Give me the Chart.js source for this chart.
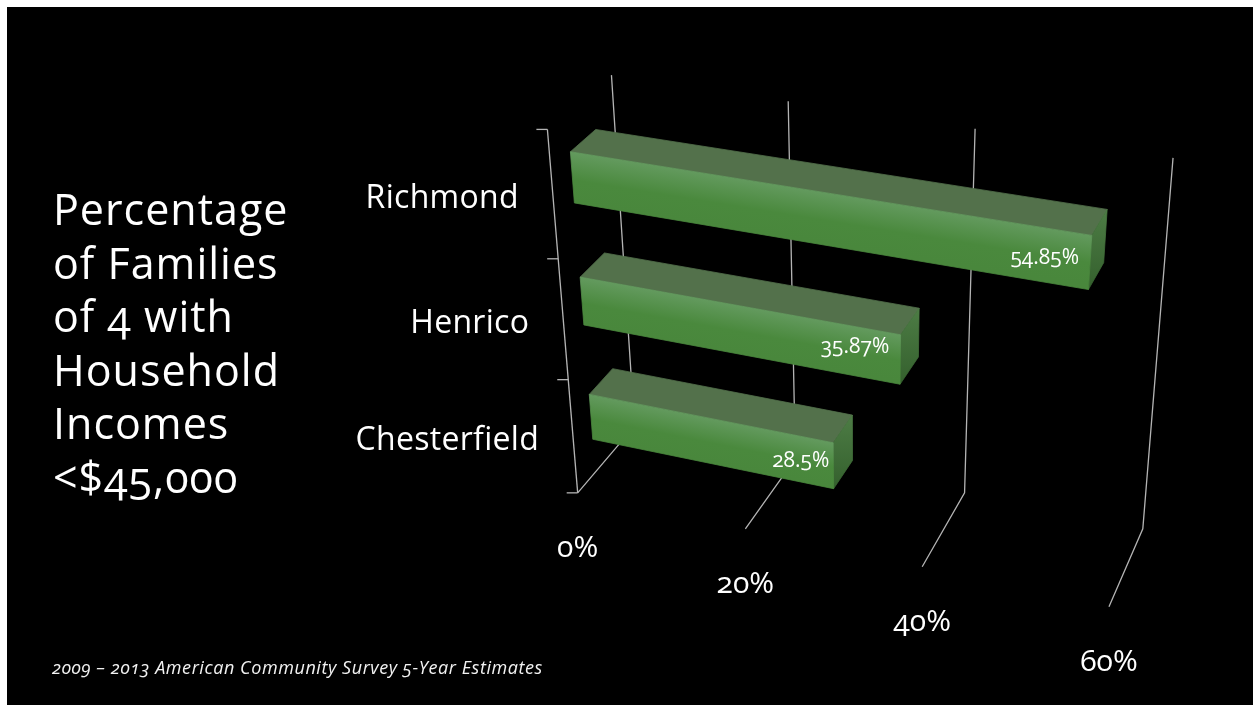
<!DOCTYPE html>
<html>
<head>
<meta charset="utf-8">
<title>Families of 4 under $45,000</title>
<script src="https://cdn.jsdelivr.net/npm/chart.js@4"></script>
<style>
    html, body { margin: 0; padding: 0; background: #fff; overflow: hidden; }
    #slide { position: absolute; left: 7px; top: 7px; width: 1246px; height: 698px; background: #000; }
    #chart { position: absolute; left: 0; top: 0; }
    #labels { position: absolute; left: 0; top: 0; width: 1253px; height: 705px; }
    #labels div, #heading, #source {
        position: absolute;
        color: #fff;
        white-space: nowrap;
        font-family: 'Open Sans', sans-serif;
        font-feature-settings: "onum" 1;
    }
    #heading { left: 53px; top: 182px; font-size: 43px; line-height: 53.5px; letter-spacing: 1px; }
    #source { left: 52px; top: 656px; font-size: 18px; font-style: italic; line-height: 22px; letter-spacing: 0.57px; color: #f2f2f2; }
</style>
</head>
<body>
<div id="slide"></div>
<canvas id="chart" width="1253" height="705"></canvas>
<div id="labels"></div>
<div id="heading">Percentage<br>of Families<br>of 4 with<br>Household<br>Incomes<br>&lt;$45,000</div>
<div id="source">2009 – 2013 American Community Survey 5-Year Estimates</div>

<script>
const categories = ['Richmond', 'Henrico', 'Chesterfield'];
const familyShare = [54.85, 35.87, 28.5];
const shareLabels = ['54.85%', '35.87%', '28.5%'];

const gridColor = '#b4b4b4';
const barDepth = [0.3, 0.7];
const labelNudge = [[-11, -7], [-11, -15], [-4, -7]];

// Corners of the 3D box: [value, height, depth, screen x, screen y], all axes 0..1
const boxAnchors = [
    [0, 1, 1, 612, 75], [1 / 3, 1, 1, 788, 101], [2 / 3, 1, 1, 975, 129], [1, 1, 1, 1173, 158],
    [0, 0, 1, 634, 426], [1 / 3, 0, 1, 795, 460], [2 / 3, 0, 1, 965, 492], [1, 0, 1, 1143, 528],
    [0, 0, 0, 578, 492], [1 / 3, 0, 0, 745, 529], [2 / 3, 0, 0, 922, 567], [1, 0, 0, 1109, 607],
    [0, 1, 0, 547, 129], [0, 2 / 3, 0, 558, 259], [0, 1 / 3, 0, 569, 380]
];

function solve(m, b) {
    const n = b.length;
    for (let i = 0; i < n; i++) {
        let best = i;
        for (let r = i + 1; r < n; r++) {
            if (Math.abs(m[r][i]) > Math.abs(m[best][i])) best = r;
        }
        [m[i], m[best]] = [m[best], m[i]];
        [b[i], b[best]] = [b[best], b[i]];
        for (let r = i + 1; r < n; r++) {
            const f = m[r][i] / m[i][i];
            for (let c = i; c < n; c++) m[r][c] -= f * m[i][c];
            b[r] -= f * b[i];
        }
    }
    const out = new Array(n).fill(0);
    for (let i = n - 1; i >= 0; i--) {
        let s = b[i];
        for (let c = i + 1; c < n; c++) s -= m[i][c] * out[c];
        out[i] = s / m[i][i];
    }
    return out;
}

// Least squares camera fit, returns project(value, height, depth) -> [x, y]
function fitCamera(anchors) {
    const rows = [], rhs = [];
    anchors.forEach(([v, u, d, sx, sy]) => {
        const x = sx / 1000, y = sy / 1000;
        rows.push([v, u, d, 1, 0, 0, 0, 0, -x * v, -x * u, -x * d]);
        rhs.push(x);
        rows.push([0, 0, 0, 0, v, u, d, 1, -y * v, -y * u, -y * d]);
        rhs.push(y);
    });
    const m = Array.from({length: 11}, () => new Array(11).fill(0));
    const b = new Array(11).fill(0);
    rows.forEach((row, k) => {
        for (let i = 0; i < 11; i++) {
            b[i] += row[i] * rhs[k];
            for (let j = 0; j < 11; j++) m[i][j] += row[i] * row[j];
        }
    });
    const p = solve(m, b);
    return (v, u, d) => {
        const w = p[8] * v + p[9] * u + p[10] * d + 1;
        return [
            1000 * (p[0] * v + p[1] * u + p[2] * d + p[3]) / w,
            1000 * (p[4] * v + p[5] * u + p[6] * d + p[7]) / w
        ];
    };
}

const project = fitCamera(boxAnchors);

const labelBoxes = new Map();
function placeLabel(key, text, x, y, size, spacing, align) {
    let el = labelBoxes.get(key);
    if (!el) {
        el = document.createElement('div');
        document.getElementById('labels').appendChild(el);
        labelBoxes.set(key, el);
    }
    el.textContent = text;
    el.style.left = x + 'px';
    el.style.top = y + 'px';
    el.style.fontSize = size + 'px';
    el.style.letterSpacing = spacing + 'px';
    el.style.transform = align === 'right' ? 'translate(-100%, -50%)' : 'translate(-50%, -50%)';
}

function polyline(ctx, pts) {
    ctx.beginPath();
    pts.forEach((p, i) => (i ? ctx.lineTo(p[0], p[1]) : ctx.moveTo(p[0], p[1])));
}

// Stroke in the fill colour too, so no dark seam shows where faces meet
function fillFace(ctx, pts, fill) {
    polyline(ctx, pts);
    ctx.closePath();
    ctx.fillStyle = fill;
    ctx.strokeStyle = fill;
    ctx.lineWidth = 0.8;
    ctx.fill();
    ctx.stroke();
}

// Gradient running across the bar, square to its top edge
function acrossGradient(ctx, a, b, foot) {
    const ex = b[0] - a[0], ey = b[1] - a[1];
    const len = Math.hypot(ex, ey);
    const nx = -ey / len, ny = ex / len;
    const reach = (foot[0] - a[0]) * nx + (foot[1] - a[1]) * ny;
    const mx = (a[0] + b[0]) / 2, my = (a[1] + b[1]) / 2;
    return ctx.createLinearGradient(mx, my, mx + nx * reach, my + ny * reach);
}

const perspectivePlugin = {
    id: 'perspective',
    afterDatasetsDraw(chart) {
        const ctx = chart.ctx;
        const xs = chart.scales.x, ys = chart.scales.y;
        const area = chart.chartArea;
        const toV = px => (px - area.left) / (area.right - area.left);
        const toU = py => (area.bottom - py) / (area.bottom - area.top);

        ctx.save();
        ctx.strokeStyle = gridColor;
        ctx.lineWidth = 1.3;

        // value gridlines: up the back wall and forward over the floor
        xs.ticks.forEach((tick, i) => {
            const v = toV(xs.getPixelForValue(tick.value));
            polyline(ctx, [project(v, 1, 1), project(v, 0, 1), project(v, 0, 0)]);
            ctx.stroke();
            const end = project(v, 0, 0);
            placeLabel('tick' + i, tick.value + '%', end[0], end[1] + 52, 30, 0, 'center');
        });

        // category axis with tick marks between the bands
        polyline(ctx, [project(0, 1, 0), project(0, 0, 0)]);
        ctx.stroke();
        for (let k = 0; k <= categories.length; k++) {
            const p = project(0, k / categories.length, 0);
            polyline(ctx, [[p[0] - 11, p[1]], p]);
            ctx.stroke();
        }

        chart.getDatasetMeta(0).data.forEach((bar, i) => {
            const v0 = toV(bar.base), v1 = toV(bar.x);
            const uTop = toU(bar.y - bar.height / 2), uBot = toU(bar.y + bar.height / 2);
            const [dF, dB] = barDepth;
            const fTL = project(v0, uTop, dF), fTR = project(v1, uTop, dF);
            const fBL = project(v0, uBot, dF), fBR = project(v1, uBot, dF);
            const bTL = project(v0, uTop, dB), bTR = project(v1, uTop, dB);
            const bBR = project(v1, uBot, dB);

            fillFace(ctx, [fTL, fTR, bTR, bTL], '#53714b');

            const side = ctx.createLinearGradient(0, bTR[1], 0, fBR[1]);
            side.addColorStop(0, '#4d7c45');
            side.addColorStop(1, '#34602d');
            fillFace(ctx, [fTR, bTR, bBR, fBR], side);

            const front = acrossGradient(ctx, fTL, fTR, fBL);
            front.addColorStop(0, '#639a5e');
            front.addColorStop(0.55, '#4a893d');
            front.addColorStop(1, '#49873c');
            fillFace(ctx, [fTL, fTR, fBR, fBL], front);

            const mid = project(v1, toU(bar.y), dF);
            placeLabel('share' + i, shareLabels[i], mid[0] + labelNudge[i][0], mid[1] + labelNudge[i][1], 21, 0, 'right');

            const axisPt = project(0, toU(ys.getPixelForValue(i)), 0);
            placeLabel('cat' + i, categories[i], axisPt[0] - 34, axisPt[1], 32, 0.3, 'right');
        });
        ctx.restore();
    }
};

new Chart(document.getElementById('chart'), {
    type: 'bar',
    data: {
        labels: categories,
        datasets: [{
            data: familyShare,
            backgroundColor: 'transparent',
            barPercentage: 0.4,
            categoryPercentage: 1
        }]
    },
    options: {
        indexAxis: 'y',
        responsive: false,
        animation: false,
        plugins: { legend: { display: false }, tooltip: { enabled: false } },
        scales: {
            x: { display: false, min: 0, max: 60, ticks: { stepSize: 20 } },
            y: { display: false }
        }
    },
    plugins: [perspectivePlugin]
});
</script>
</body>
</html>
